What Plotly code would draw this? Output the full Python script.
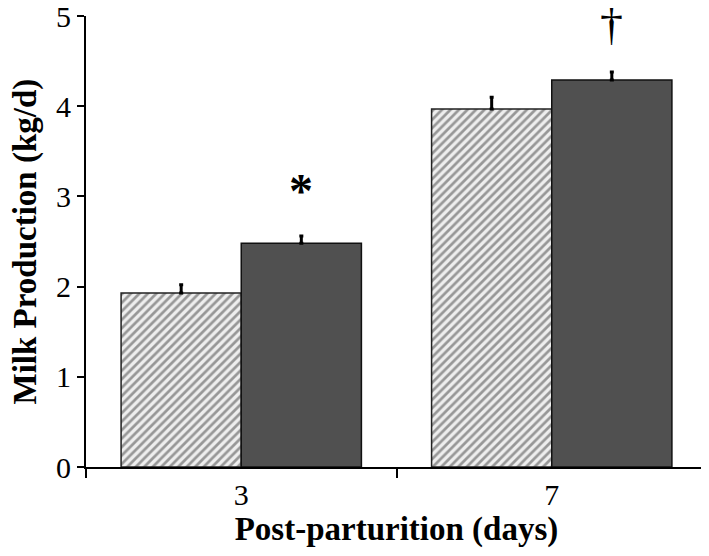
import plotly.graph_objects as go

days = ["3", "7"]
control = [1.93, 3.97]
control_err = [0.09, 0.13]
treated = [2.48, 4.29]
treated_err = [0.08, 0.09]
y_ticks = [0, 1, 2, 3, 4, 5]
sig_marks = ["*", "†"]
x_title = "Post-parturition (days)"
y_title = "Milk Production (kg/d)"

font_family = "Liberation Serif, Times New Roman, serif"

fig = go.Figure()
fig.add_trace(go.Bar(
    x=days, y=control, name="Control",
    marker=dict(color="#eeeeee", line=dict(color="#222222", width=1.5),
                pattern=dict(shape="/", fgcolor="#404040", bgcolor="#eeeeee",
                             size=6, solidity=0.45)),
    error_y=dict(type="data", array=control_err, arrayminus=[0, 0], symmetric=False,
                 color="black", thickness=3, width=2),
))
fig.add_trace(go.Bar(
    x=days, y=treated, name="Treated",
    marker=dict(color="#505050", line=dict(color="#111111", width=1.5)),
    error_y=dict(type="data", array=treated_err, arrayminus=[0, 0], symmetric=False,
                 color="black", thickness=3, width=2),
))

bar_off = (1 - 0.226) / 4
fig.add_annotation(x=0 + bar_off, y=treated[0] + treated_err[0] + 0.51, text="<b>*</b>",
                   showarrow=False, font=dict(family=font_family, size=48, color="black"),
                   xref="x", yref="y", yanchor="middle")
fig.add_annotation(x=1 + bar_off, y=1, text=sig_marks[1],
                   showarrow=False, font=dict(family=font_family, size=46, color="black"),
                   xref="x", yref="paper", yanchor="top", yshift=19)
fig.add_annotation(x=0, y=0.5, xref="paper", yref="paper", text="<b>" + y_title + "</b>",
                   textangle=-90, showarrow=False, xanchor="center", yanchor="middle",
                   xshift=-61, font=dict(family=font_family, size=33, color="black"))

fig.update_layout(
    width=701, height=548,
    margin=dict(l=78, r=2, t=8, b=89),
    paper_bgcolor="white", plot_bgcolor="white",
    barmode="group", bargap=0.226, bargroupgap=0,
    showlegend=False,
    font=dict(family=font_family, color="black"),
    xaxis=dict(type="category", range=[-0.5, 1.5], tickson="boundaries", automargin=False,
               ticks="outside", ticklen=9, tickwidth=2, tickcolor="black",
               showline=True, linecolor="black", linewidth=2,
               tickfont=dict(size=30), showgrid=False, ticklabeloverflow="allow",
               title=dict(text="<b>" + x_title + "</b>", font=dict(size=33), standoff=6)),
    yaxis=dict(range=[0, 5], tickvals=y_ticks, ticks="outside", ticklen=7, tickwidth=2,
               tickcolor="black", showline=True, linecolor="black", linewidth=2, automargin=False,
               tickfont=dict(size=30), showgrid=False, zeroline=False, ticklabeloverflow="allow"),
)

fig.write_html("out.html")
